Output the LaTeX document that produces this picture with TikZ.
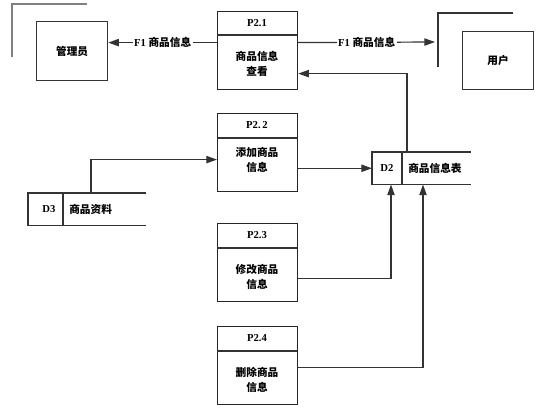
\documentclass[tikz,border=0pt]{standalone}
\usepackage{fontspec}
\setmainfont{Liberation Serif}
\newfontfamily\cjk{Noto Sans CJK SC}
\usetikzlibrary{arrows.meta,calc}
\begin{document}
\begin{tikzpicture}[x=0.75pt,y=-0.75pt,
  every node/.style={font=\fontsize{8}{11}\selectfont\bfseries},
  ln/.style={draw=black!80, line width=0.9pt},
  arr/.style={ln,-{Triangle[length=8pt,width=5.5pt]}},
  ext/.style={draw=black!80, line width=0.9pt, anchor=north west, inner sep=0pt, minimum width=53.25pt, minimum height=44.25pt},
  proc/.style={draw=black!85, line width=0.9pt, anchor=north west, inner sep=0pt, minimum width=60pt, minimum height=58.5pt},
  store/.style={anchor=north west, inner sep=0pt, minimum height=24pt},
  lab/.style={fill=white, inner sep=1pt},
  txt/.style={inner sep=0pt, align=center}]
\useasboundingbox (0,0) rectangle (557,414);

% corner marks of external entities
\draw[ln, draw=gray] (12,57) -- (12,4) -- (87,4);
\draw[ln] (438,67) -- (438,13) coordinate (ucorner) -- (513,13);

% external entities
\node[ext] (adm) at (36,21) {};
\node[txt] (admt) at (adm.center) {\cjk 管理员};
\node[ext, minimum height=43.5pt] (usr) at (462,31) {};
\node[txt] (usrt) at (usr.center) {\cjk 用户};

% processes
\foreach \n/\y/\h/\hy in {p21/11/35/23, p22/113/138/125.5, p23/223/248/235.5, p24/326/351/338.5}{
  \node[proc] (\n) at (217,\y) {};
  \draw[ln] (217,\h) -- (297,\h);
}
\node[txt] (p21h) at (257,23) {P2.1};
\node[txt] (p21b) at (257,64) {\cjk 商品信息\\\cjk 查看};
\node[txt] (p22h) at (257,125.5) {P2.\,2};
\node[txt] (p22b) at (257,160) {\cjk 添加商品\\\cjk 信息};
\node[txt] (p23h) at (257,235.5) {P2.3};
\node[txt] (p23b) at (257,277) {\cjk 修改商品\\\cjk 信息};
\node[txt] (p24h) at (257,338.5) {P2.4};
\node[txt] (p24b) at (257,380) {\cjk 删除商品\\\cjk 信息};

% data stores
\node[store, minimum width=73.5pt] (d2) at (372,152) {};
\draw[ln] (d2.north east) -- (d2.north west) -- (d2.south west) -- (d2.south east);
\draw[ln] ($(d2.north west)+(30,0)$) -- ($(d2.south west)+(30,0)$);
\node[txt] (d2a) at (387,168) {D2};
\node[txt, anchor=west] (d2b) at (408,168) {\cjk 商品信息表};

\node[store, minimum width=87.75pt] (d3) at (28,193) {};
\draw[ln] (d3.north east) -- (d3.north west) -- (d3.south west) -- (d3.south east);
\draw[ln] ($(d3.north west)+(35,0)$) -- ($(d3.south west)+(35,0)$);
\node[txt] (d3a) at (49,209) {D3};
\node[txt, anchor=west] (d3b) at (69,209) {\cjk 商品资料};

\coordinate (rtip) at (435,42);

% flows
\draw[arr] ($(p21.west)+(0,-8)$) coordinate (f1a) -- (f1a -| adm.east)
  node[midway, lab] {F1 {\cjk 商品信息}};
\draw[arr] ($(p21.east)+(0,-8)$) coordinate (f1b) -- (rtip)
  node[midway, lab] {F1 {\cjk 商品信息}};
\draw[arr] ($(d2.north west)+(35,0)$) |- ($(p21.east)+(0,23)$);
\draw[arr] ($(d3.north west)+(63,0)$) |- ($(p22.west)+(0,7)$);
\draw[arr] (p22.east |- d2.west) -- (d2.west);
\draw[arr] ($(p23.east)+(0,15.5)$) -| ($(d2.south west)+(19,0)$);
\draw[arr] ($(p24.east)+(0,2)$) -| ($(d2.south west)+(51,0)$);
\end{tikzpicture}
\end{document}
